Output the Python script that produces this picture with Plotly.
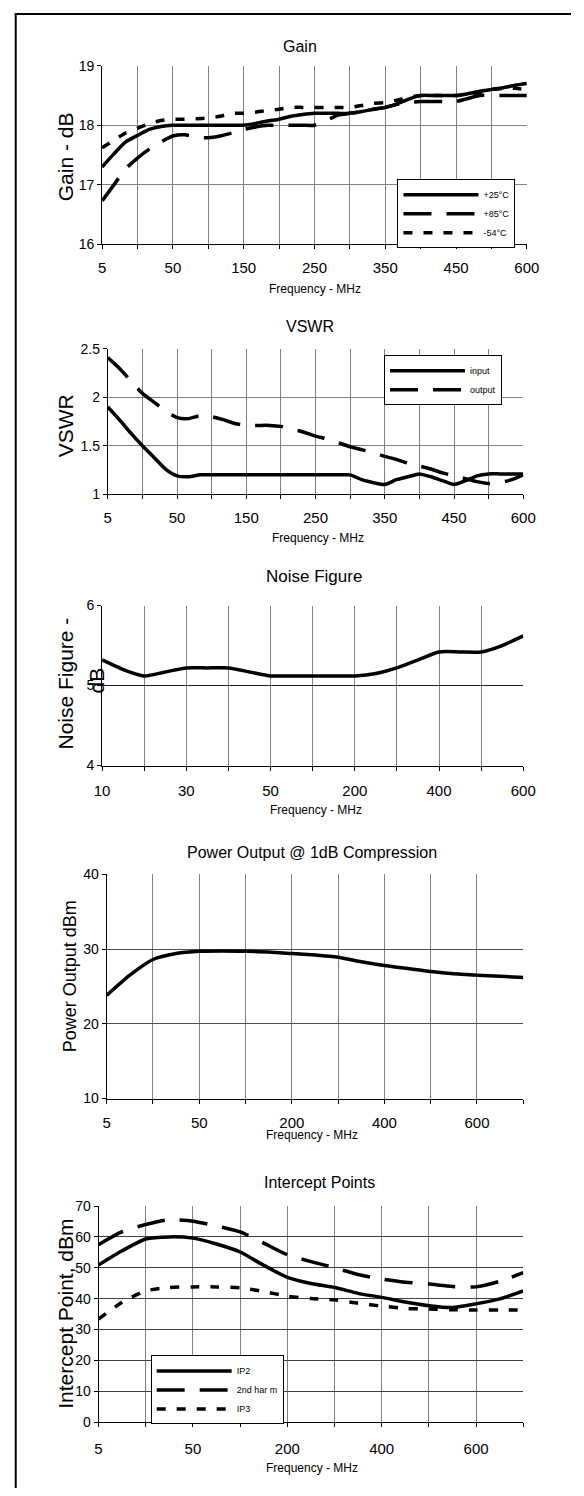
import plotly.graph_objects as go

W, H = 584, 1496
FONT = "Liberation Sans, Arial, sans-serif"

# ---------------- data ----------------
# Gain (dB) vs frequency (MHz)
gain_freq = ["5", "10", "15", "20", "30", "40", "50", "65", "80", "100", "115", "130",
             "150", "165", "185", "200", "215", "235", "250", "265", "285", "300", "315", "335",
             "350", "365", "385", "400", "415", "435", "450", "475", "500", "525", "550", "575", "600"]
gain_p25 = [17.3, 17.52, 17.72, 17.83, 17.93, 17.98, 18.0,
            18.0, 18.0, 18.0, 18.0, 18.0, 18.0,
            18.03, 18.07, 18.1, 18.15, 18.18, 18.2,
            18.2, 18.2, 18.2, 18.23, 18.27, 18.3,
            18.36, 18.44, 18.5, 18.5, 18.5, 18.5,
            18.53, 18.57, 18.6, 18.63, 18.67, 18.7]
gain_p85 = [16.73, 17.0, 17.27, 17.45, 17.6, 17.72, 17.82,
            17.84, 17.8, 17.79, 17.82, 17.87, 17.93,
            17.97, 18.0, 18.0, 18.0, 18.0, 18.0,
            18.08, 18.17, 18.2, 18.23, 18.27, 18.3,
            18.35, 18.38, 18.4, 18.4, 18.4, 18.4,
            18.45, 18.5, 18.5, 18.5, 18.5, 18.5]
gain_m54 = [17.62, 17.75, 17.87, 17.95, 18.03, 18.08, 18.1,
            18.1, 18.11, 18.12, 18.15, 18.2, 18.2,
            18.22, 18.25, 18.27, 18.3, 18.3, 18.3,
            18.3, 18.3, 18.3, 18.33, 18.37, 18.38,
            18.42, 18.47, 18.5, 18.5, 18.5, 18.5,
            18.52, 18.55, 18.6, 18.62, 18.62, 18.6]
gain_ticklabels = ["5", "50", "150", "250", "350", "450", "600"]
gain_names = ["+25°C", "+85°C", "-54°C"]

# VSWR vs frequency (MHz)
vswr_freq = gain_freq
vswr_input = [1.9, 1.77, 1.63, 1.5, 1.38, 1.26, 1.19, 1.18, 1.2,
              1.2, 1.2, 1.2, 1.2, 1.2, 1.2, 1.2, 1.2, 1.2, 1.2, 1.2, 1.2, 1.2,
              1.15, 1.12, 1.1, 1.15, 1.18, 1.21, 1.18, 1.14, 1.1, 1.14, 1.19,
              1.21, 1.21, 1.21, 1.21]
vswr_output = [2.41, 2.3, 2.17, 2.04, 1.95, 1.86, 1.79, 1.78, 1.81,
               1.8, 1.77, 1.73, 1.71, 1.71, 1.71, 1.7, 1.67, 1.64,
               1.6, 1.57, 1.53, 1.49, 1.46, 1.43, 1.39, 1.36, 1.32,
               1.29, 1.26, 1.22, 1.19, 1.16, 1.13, 1.11, 1.12, 1.15, 1.2]
vswr_ticklabels = ["5", "50", "150", "250", "350", "450", "600"]
vswr_names = ["input", "output"]

# Noise figure (dB)
nf_freq = ["10", "15", "20", "25", "30", "35", "40", "45", "50", "75", "100",
           "150", "200", "250", "300", "350", "400", "450", "500", "550", "600"]
nf_db = [5.32, 5.2, 5.12, 5.17, 5.22, 5.22, 5.22, 5.17, 5.12, 5.12, 5.12,
         5.12, 5.12, 5.15, 5.22, 5.32, 5.42, 5.42, 5.42, 5.5, 5.62]
nf_ticklabels = ["10", "30", "50", "200", "400", "600"]

# Power output @ 1dB compression (dBm)
p1db_freq = ["5", "10", "20", "30", "50", "75", "100", "150", "200", "250",
             "300", "350", "400", "450", "500", "550", "600", "650", "700"]
p1db_dbm = [23.8, 26.5, 28.6, 29.4, 29.7, 29.75, 29.7, 29.6, 29.4, 29.2,
            28.9, 28.3, 27.8, 27.4, 27.0, 26.7, 26.5, 26.35, 26.2]
p1db_ticklabels = ["5", "50", "200", "400", "600"]

# Intercept points (dBm)
ip_freq = p1db_freq
ip2 = [50.9, 55.5, 59.3, 60.0, 59.6, 57.7, 55.1, 50.8, 46.9, 44.9,
       43.6, 41.7, 40.4, 38.9, 37.7, 37.1, 38.3, 39.9, 42.5]
harm2 = [57.5, 61.7, 64.0, 65.6, 65.1, 63.5, 61.6, 58.0, 54.2, 52.0,
         50.0, 47.8, 46.3, 45.3, 44.7, 43.9, 43.8, 45.6, 48.4]
ip3 = [33.4, 38.8, 42.5, 43.6, 43.8, 43.8, 43.5, 42.3, 40.8, 40.0,
       39.6, 38.5, 37.6, 36.8, 36.6, 36.4, 36.3, 36.3, 36.3]
ip_ticklabels = ["5", "50", "200", "400", "600"]
ip_names = ["IP2", "2nd har m", "IP3"]

# ---------------- layout helpers ----------------
def px_x(x):
    return x / W

def px_y(y):
    return 1 - y / H

LW = 3.5
LONG = "28px,15px"
SHORT = "9px,11px"

fig = go.Figure()

def add(x, y, xa, ya, name, dash, legend=None):
    fig.add_trace(go.Scatter(
        x=x, y=y, xaxis=xa, yaxis=ya, mode="lines", name=name,
        line=dict(color="black", width=LW, dash=dash, shape="spline", smoothing=0.6),
        showlegend=legend is not None, legend=legend or "legend",
        hoverinfo="skip"))

add(gain_freq, gain_p25, "x", "y", gain_names[0], "solid", "legend")
add(gain_freq, gain_p85, "x", "y", gain_names[1], LONG, "legend")
add(gain_freq, gain_m54, "x", "y", gain_names[2], SHORT, "legend")
add(vswr_freq, vswr_input, "x2", "y2", vswr_names[0], "solid", "legend2")
add(vswr_freq, vswr_output, "x2", "y2", vswr_names[1], LONG, "legend2")
add(nf_freq, nf_db, "x3", "y3", "NF", "solid")
add(p1db_freq, p1db_dbm, "x4", "y4", "P1dB", "solid")
add(ip_freq, ip2, "x5", "y5", ip_names[0], "solid", "legend3")
add(ip_freq, harm2, "x5", "y5", ip_names[1], LONG, "legend3")
add(ip_freq, ip3, "x5", "y5", ip_names[2], SHORT, "legend3")


def xaxis(x0, x1, y0, y1, anchor, cats, step, labels, standoff, gridc="#808080"):
    vals = cats[::step]
    return dict(
        domain=[px_x(x0), px_x(x1)], anchor=anchor, type="category",
        categoryorder="array", categoryarray=cats, range=[0, len(cats) - 1],
        tickmode="array", tickvals=vals,
        ticktext=[v if v in labels else "" for v in vals],
        showgrid=True, gridcolor=gridc, gridwidth=1,
        showline=True, linecolor="black", linewidth=1,
        ticks="outside", ticklen=4, tickcolor="black", tickwidth=1,
        tickfont=dict(size=15, color="black", family=FONT),
        ticklabelstandoff=standoff, zeroline=False, fixedrange=True)


def yaxis(y0, y1, anchor, rng, dtick, gridc="#808080"):
    return dict(
        domain=[px_y(y1), px_y(y0)], anchor=anchor, range=rng, dtick=dtick,
        showgrid=True, gridcolor=gridc, gridwidth=1,
        showline=True, linecolor="black", linewidth=1,
        ticks="outside", ticklen=4, tickcolor="black", tickwidth=1,
        tickfont=dict(size=14, color="black", family=FONT),
        zeroline=False, fixedrange=True)

# plot areas in pixels: (x0, x1, y0, y1)
A1 = (97.6, 538.2, 58.3, 239.0)
A2 = (103.5, 534.5, 344.5, 491.5)
A3 = (97.6, 534.5, 604.0, 765.7)
A4 = (102.4, 534.5, 875.7, 1102.3)
A5 = (93.9, 534.5, 1211.0, 1429.3)

layout = dict(
    width=W, height=H, margin=dict(l=0, r=0, t=0, b=0),
    paper_bgcolor="white", plot_bgcolor="white",
    font=dict(family=FONT, color="black"),
    hovermode=False,
    xaxis=xaxis(*A1, "y", gain_freq, 3, gain_ticklabels, 6),
    yaxis=yaxis(A1[2], A1[3], "x", [16, 19], 1),
    xaxis2=xaxis(*A2, "y2", vswr_freq, 3, vswr_ticklabels, 6),
    yaxis2=yaxis(A2[2], A2[3], "x2", [1, 2.5], 0.5),
    xaxis3=xaxis(*A3, "y3", nf_freq, 2, nf_ticklabels, 7),
    yaxis3=yaxis(A3[2], A3[3], "x3", [4, 6], 1, gridc="#202020"),
    xaxis4=xaxis(*A4, "y4", p1db_freq, 2, p1db_ticklabels, 6),
    yaxis4=yaxis(A4[2], A4[3], "x4", [10, 40], 10, gridc="#505050"),
    xaxis5=xaxis(*A5, "y5", ip_freq, 2, ip_ticklabels, 9),
    yaxis5=yaxis(A5[2], A5[3], "x5", [0, 70], 10, gridc="#404040"),
)

def leg(x, y):
    return dict(x=px_x(x), y=px_y(y), xanchor="left", yanchor="top",
                bgcolor="white", bordercolor="black", borderwidth=1,
                font=dict(size=9, family=FONT, color="black"),
                itemwidth=75, tracegroupgap=0, traceorder="normal",
                itemclick=False, itemdoubleclick=False)

layout["legend"] = leg(404, 173)
layout["legend2"] = leg(390, 351)
layout["legend3"] = leg(148, 1362)
fig.update_layout(**layout)

ann = []
def text(x, y, s, size, angle=0):
    ann.append(dict(x=px_x(x), y=px_y(y), xref="paper", yref="paper", text=s,
                    showarrow=False, textangle=angle, xanchor="center", yanchor="middle",
                    font=dict(size=size, family=FONT, color="black")))

# chart titles
text(303, 39, "Gain", 16)
text(313, 322, "VSWR", 16)
text(317, 575, "Noise Figure", 17)
text(315, 854, "Power Output @ 1dB Compression", 16)
text(323, 1187, "Intercept Points", 16)
# x-axis titles
for (xc, yc) in [(318, 284), (322, 536), (320, 811), (315, 1139), (315, 1476)]:
    text(xc, yc, "Frequency - MHz", 12)
# y-axis titles
text(60, 150, "Gain - dB", 21, -90)
text(60, 422, "VSWR", 21, -90)
text(60, 683, "Noise Figure -", 21, -90)
text(92, 680, "dB", 21, -90)
text(64, 979, "Power Output dBm", 18, -90)
text(60, 1320, "Intercept Point, dBm", 21, -90)
fig.update_layout(annotations=ann)

# outer frame: top and left edges
fig.add_shape(type="line", xref="paper", yref="paper",
              x0=px_x(7), x1=1.0, y0=px_y(6), y1=px_y(6),
              line=dict(color="black", width=2))
fig.add_shape(type="line", xref="paper", yref="paper",
              x0=px_x(8), x1=px_x(8), y0=px_y(5), y1=0.0,
              line=dict(color="black", width=2))

fig.write_html(
    "out.html",
    config={"displayModeBar": False, "staticPlot": True},
    post_script=("document.body.style.margin='0';"
                 "document.body.style.overflow='hidden';"
                 "document.documentElement.style.overflow='hidden';"))
